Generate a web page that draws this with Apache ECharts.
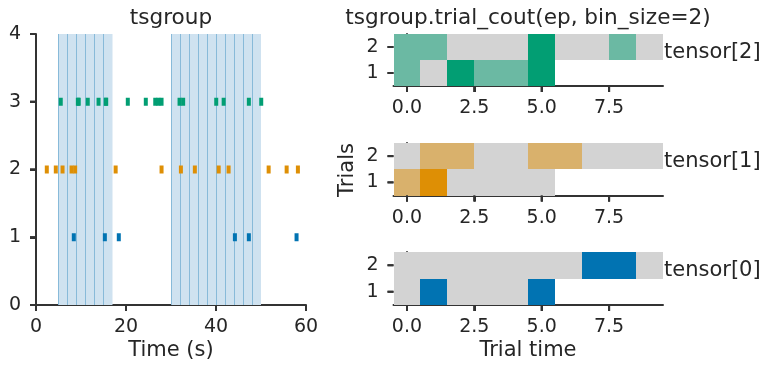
<!DOCTYPE html>
<html>
<head>
<meta charset="utf-8">
<script src="https://cdn.jsdelivr.net/npm/echarts@6/dist/echarts.min.js"></script>
<style>html,body{margin:0;padding:0;background:#fff;}#c{width:773px;height:373px;}</style>
</head>
<body>
<div id="c"></div>
<script>
// ---- data ----
const spikes0 = [8.4, 15.3, 18.4, 44.2, 47.3, 57.9];
const spikes1 = [2.4, 4.4, 5.9, 7.9, 8.7, 17.7, 27.9, 32.2, 35.3, 40.6, 42.8, 51.7, 55.7, 58.2];
const spikes2 = [5.5, 9.3, 9.5, 11.5, 13.9, 15.5, 15.6, 20.4, 24.4, 26.5, 27.2, 27.9, 31.9, 32.7, 40.05, 41.7, 47.3, 50.05];
const epochStarts = [5, 30];
const epochEnds = [17, 50];
const binEdges = [5, 7, 9, 11, 13, 15, 30, 32, 34, 36, 38, 40, 42, 44, 46, 48];
// counts per trial (trial 1, trial 2)
const counts0 = [[0, 1, 0, 0, 0, 1], [0, 0, 0, 0, 0, 0, 0, 1, 1, 0]];
const counts1 = [[1, 2, 0, 0, 0, 0], [0, 1, 1, 0, 0, 1, 1, 0, 0, 0]];
const counts2 = [[1, 0, 2, 1, 1, 2], [1, 1, 0, 0, 0, 2, 0, 0, 1, 0]];
const leftXTicks = [0, 20, 40, 60];
const leftYTicks = [0, 1, 2, 3, 4];
const heatXTicks = [0, 2.5, 5, 7.5];
const heatYTicks = [1, 2];

const C_BLUE = '#0173b2', C_ORANGE = '#de8f05', C_GREEN = '#029e73', C_GRAY = '#d3d3d3';
const TXT = '#262626', AX = '#333333';
const FONT = 'DejaVu Sans';
const TICK_FS = 19, LABEL_FS = 21, TITLE_FS = 21.6;
const TL = 6, TW = 2;

const chart = echarts.init(document.getElementById('c'), null, {renderer: 'canvas'});

function hexToRgb(h){ return [parseInt(h.substr(1,2),16), parseInt(h.substr(3,2),16), parseInt(h.substr(5,2),16)]; }
function lerpColor(a, b, t){
  const A = hexToRgb(a), B = hexToRgb(b);
  const r = A.map((v,i)=>Math.round(v + (B[i]-v)*t));
  return 'rgb(' + r.join(',') + ')';
}

function axisLine() { return {show: true, lineStyle: {color: AX, width: 2}}; }
function axisLabel(margin, vals, fmt) {
  const o = {color: TXT, fontFamily: FONT, fontSize: TICK_FS, margin: margin, customValues: vals};
  if (fmt) o.formatter = fmt;
  return o;
}

const gridBoxes = [
  {left: 36, top: 34, width: 270, height: 271},
  {left: 393.5, top: 34, width: 269.5, height: 52},
  {left: 393.5, top: 143, width: 269.5, height: 52.5},
  {left: 393.5, top: 252, width: 269.5, height: 53}
];
const ranges = [
  {x: [0, 60], y: [0, 4], xt: leftXTicks, yt: leftYTicks},
  {x: [-0.5, 9.5], y: [0.5, 2.5], xt: heatXTicks, yt: heatYTicks},
  {x: [-0.5, 9.5], y: [0.5, 2.5], xt: heatXTicks, yt: heatYTicks},
  {x: [-0.5, 9.5], y: [0.5, 2.5], xt: heatXTicks, yt: heatYTicks}
];
const grids = gridBoxes.map(g => Object.assign({outerBoundsMode: 'none', containLabel: false, show: false}, g));

const xAxes = [], yAxes = [];
ranges.forEach((r, i) => {
  xAxes.push({gridIndex: i, type: 'value', min: r.x[0], max: r.x[1], splitLine: {show: false},
    axisLine: axisLine(),
    axisTick: {show: true, inside: false, length: TL, customValues: r.xt, lineStyle: {color: AX, width: TW}},
    axisLabel: axisLabel(13, r.xt, i > 0 ? (v => Number(v).toFixed(1)) : undefined)});
  yAxes.push({gridIndex: i, type: 'value', min: r.y[0], max: r.y[1], splitLine: {show: false},
    axisLine: axisLine(),
    axisTick: {show: true, inside: false, length: TL, customValues: r.yt, lineStyle: {color: AX, width: TW}},
    axisLabel: axisLabel(15, r.yt)});
});
xAxes[0].interval = 20;
yAxes[0].interval = 1;

function heatSeries(gridIdx, counts, color) {
  const data = [];
  let mx = 0;
  counts.forEach((row, ti) => row.forEach((c, bi) => { data.push([bi, ti + 1, c]); if (c > mx) mx = c; }));
  return {
    type: 'custom', xAxisIndex: gridIdx, yAxisIndex: gridIdx, data: data, silent: true,
    renderItem: function (params, api) {
      const x = api.value(0), y = api.value(1), c = api.value(2);
      const p0 = api.coord([x - 0.5, y + 0.5]);
      const p1 = api.coord([x + 0.5, y - 0.5]);
      const x0 = Math.round(p0[0]), y0 = Math.round(p0[1]), x1 = Math.round(p1[0]), y1 = Math.round(p1[1]);
      const col = lerpColor(C_GRAY, color, mx > 0 ? c / mx : 0);
      return {type: 'rect', shape: {x: x0, y: y0, width: x1 - x0, height: y1 - y0}, style: {fill: col}};
    },
    z: 1
  };
}

const shadeAreas = epochStarts.map((s, i) => [{xAxis: s}, {xAxis: epochEnds[i]}]);
const shadeLines = binEdges.map(v => ({xAxis: v}));

const series = [
  {type: 'scatter', xAxisIndex: 0, yAxisIndex: 0, data: [], z: 1, silent: true,
   markArea: {silent: true, itemStyle: {color: '#cfe2f0'}, data: shadeAreas},
   markLine: {silent: true, symbol: 'none', label: {show: false}, animation: false,
     lineStyle: {color: '#88bad9', width: 1, type: 'solid'}, data: shadeLines}},
  {type: 'scatter', xAxisIndex: 0, yAxisIndex: 0, symbol: 'rect', symbolSize: [4, 8], z: 5,
   itemStyle: {color: C_BLUE, opacity: 1}, data: spikes0.map(t => [t, 1])},
  {type: 'scatter', xAxisIndex: 0, yAxisIndex: 0, symbol: 'rect', symbolSize: [4, 8], z: 5,
   itemStyle: {color: C_ORANGE, opacity: 1}, data: spikes1.map(t => [t, 2])},
  {type: 'scatter', xAxisIndex: 0, yAxisIndex: 0, symbol: 'rect', symbolSize: [4, 8], z: 5,
   itemStyle: {color: C_GREEN, opacity: 1}, data: spikes2.map(t => [t, 3])},
  heatSeries(1, counts2, C_GREEN),
  heatSeries(2, counts1, C_ORANGE),
  heatSeries(3, counts0, C_BLUE)
];

function txt(text, x, y, align, fs) {
  return {type: 'text', x: x, y: y, silent: true,
    style: {text: text, fill: TXT, font: (fs || LABEL_FS) + 'px "' + FONT + '"', align: align || 'center', verticalAlign: 'middle'}};
}

const graphic = [
  txt('tsgroup', 171, 18, 'center', TITLE_FS),
  txt('tsgroup.trial_cout(ep, bin_size=2)', 528, 18, 'center', TITLE_FS),
  txt('Time (s)', 171, 351),
  txt('Trial time', 528, 351),
  {type: 'text', x: 348, y: 170, rotation: Math.PI / 2, silent: true,
   style: {text: 'Trials', fill: TXT, font: LABEL_FS + 'px "' + FONT + '"', align: 'center', verticalAlign: 'middle'}},
  txt('tensor[2]', 664, 53, 'left'),
  txt('tensor[1]', 664, 162, 'left'),
  txt('tensor[0]', 664, 271, 'left')
];

// outward tick marks as filled boxes on text elements (mapped from each axis range onto its grid box)
function tickBox(x, y, w, h) {
  return {type: 'text', x: x, y: y, silent: true, z: 100,
    style: {text: ' ', font: '1px sans-serif', width: w, height: h, padding: 0,
      backgroundColor: AX, align: 'left', verticalAlign: 'top', fill: 'rgba(0,0,0,0)'}};
}
function tickRect(x, y, w, h) {
  return {type: 'rect', x: x, y: y, silent: true, z: 100, invisible: false,
    shape: {x: 0, y: 0, width: w, height: h}, style: {fill: AX, opacity: 1}};
}
ranges.forEach((r, i) => {
  const g = gridBoxes[i];
  const bottom = g.top + g.height;
  r.xt.forEach(v => {
    const x = g.left + (v - r.x[0]) / (r.x[1] - r.x[0]) * g.width;
    graphic.push(tickRect(x - TW / 2, bottom, TW, TL));
    graphic.push(tickBox(x - TW / 2, bottom, TW, TL));
  });
  r.yt.forEach(v => {
    const y = bottom - (v - r.y[0]) / (r.y[1] - r.y[0]) * g.height;
    graphic.push(tickRect(g.left - TL, y - TW / 2, TL, TW));
    graphic.push(tickBox(g.left - TL, y - TW / 2, TL, TW));
  });
});

chart.setOption({
  animation: false,
  backgroundColor: '#ffffff',
  grid: grids,
  xAxis: xAxes,
  yAxis: yAxes,
  series: series,
  graphic: graphic
});
</script>
</body>
</html>
